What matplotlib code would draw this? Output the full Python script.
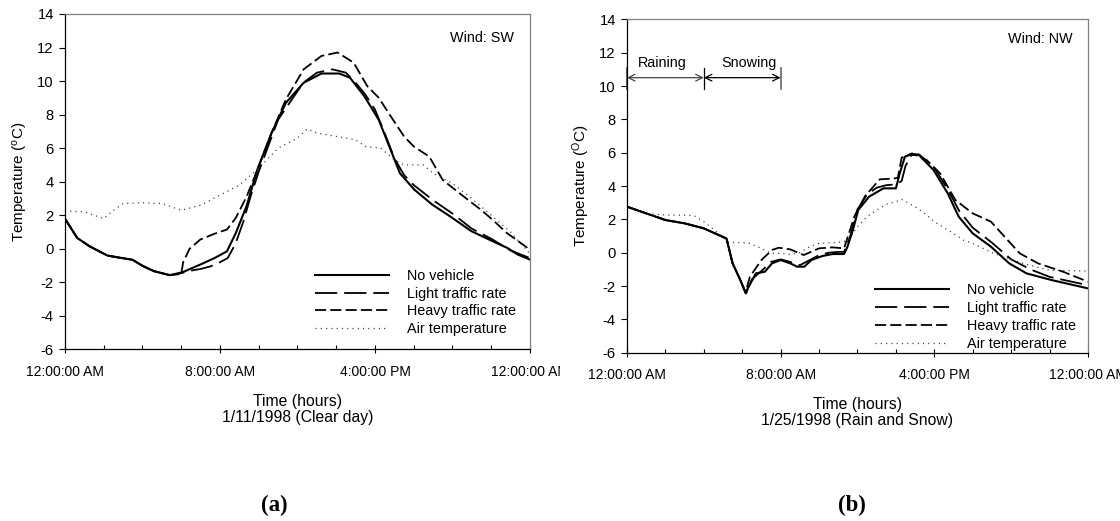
import matplotlib
matplotlib.use("Agg")
import matplotlib.pyplot as plt
from matplotlib.transforms import Bbox, TransformedBbox

plt.rcParams['font.family'] = ['Liberation Sans', 'DejaVu Sans']
plt.rcParams['mathtext.fontset'] = 'custom'
plt.rcParams['mathtext.rm'] = 'Liberation Sans'
plt.rcParams['mathtext.it'] = 'Liberation Sans:italic'
plt.rcParams['lines.scale_dashes'] = False
plt.rcParams['axes.unicode_minus'] = False

# ---------------- data: panel (a) 1/11/1998 clear day ----------------
a_none_t = [0, 0.63, 1.27, 2.19, 2.93, 3.48, 4.03, 4.59, 5.41, 6.06, 6.98, 7.72, 8.36, 8.82,
            9.37, 9.93, 10.66, 11.4, 12.32, 13.24, 14.16, 14.71, 15.45, 16.19, 16.74, 17.29,
            18.03, 18.95, 19.87, 20.98, 22.08, 22.82, 23.37, 24]
a_none_v = [1.8, 0.65, 0.15, -0.4, -0.55, -0.65, -1.03, -1.33, -1.57, -1.4, -0.94, -0.55, -0.15, 0.95,
            2.54, 4.73, 6.9, 8.7, 9.9, 10.45, 10.45, 10.2, 9.1, 7.7, 6.1, 4.5,
            3.53, 2.64, 1.94, 1.05, 0.45, 0.06, -0.34, -0.64]

a_light_t = [0, 0.63, 1.27, 2.19, 2.93, 3.48, 4.03, 4.59, 5.41, 6.0, 6.5, 7.0, 7.5, 8.0, 8.4,
             8.8, 9.2, 9.6, 10.0, 11.0, 12.3, 13.0, 13.8, 14.5, 15.0, 15.5, 16.0, 16.5, 17.0,
             17.5, 18.0, 19.0, 20.0, 21.0, 22.0, 23.0, 24]
a_light_v = [1.8, 0.65, 0.15, -0.4, -0.55, -0.65, -1.03, -1.33, -1.57, -1.45, -1.3, -1.2, -1.05, -0.8, -0.55,
             0.3, 1.6, 3.2, 4.6, 7.7, 9.9, 10.5, 10.7, 10.5, 9.9, 9.2, 8.3, 6.9, 5.4,
             4.4, 3.8, 2.9, 2.1, 1.2, 0.6, -0.1, -0.55]

a_heavy_t = [0, 0.63, 1.27, 2.19, 2.93, 3.48, 4.03, 4.59, 5.41, 6.0, 6.1, 6.43, 6.98, 7.72, 8.36,
             8.82, 9.37, 9.93, 10.66, 11.4, 12.32, 13.24, 14.07, 14.9, 15.6, 16.2, 16.7, 17.5,
             18.0, 18.8, 19.1, 19.5, 20.6, 21.5, 22.1, 22.8, 24]
a_heavy_v = [1.8, 0.65, 0.15, -0.4, -0.55, -0.65, -1.03, -1.33, -1.57, -1.5, -0.8, 0.0, 0.55, 0.9, 1.15,
             1.85, 3.1, 4.7, 6.9, 8.9, 10.7, 11.5, 11.7, 11.1, 9.7, 9.0, 8.1, 6.7,
             6.1, 5.5, 4.9, 4.1, 3.1, 2.3, 1.7, 0.95, -0.05]

a_air_t = [0, 1, 2, 2.5, 3, 4, 5, 6, 7, 8, 9, 10, 11, 12, 12.5, 13, 14, 15, 15.5, 16.3,
           17, 17.5, 18.5, 19, 20, 21, 22, 23, 24]
a_air_v = [2.25, 2.2, 1.8, 2.3, 2.7, 2.75, 2.7, 2.3, 2.6, 3.2, 3.8, 4.8, 6.0, 6.6, 7.15, 6.9, 6.7, 6.5, 6.1, 6.0,
           5.3, 5.0, 5.0, 4.5, 3.9, 3.0, 2.0, 1.0, -0.3]

# ---------------- data: panel (b) 1/25/1998 rain and snow ----------------
b_none_t = [0, 1, 2, 3, 4, 5.18, 5.5, 5.9, 6.17, 6.43, 6.71, 7.18, 7.55, 8.0, 8.5, 8.86, 9.23,
            9.6, 10.17, 10.7, 11.3, 11.48, 11.76, 12.04, 12.6, 13.35, 14.0, 14.2, 14.47, 14.84,
            15.2, 15.96, 16.7, 17.27, 18.0, 18.95, 19.9, 20.8, 22.1, 24]
b_none_v = [2.76, 2.36, 1.96, 1.76, 1.46, 0.85, -0.64, -1.64, -2.4, -1.84, -1.24, -1.14, -0.64, -0.44, -0.64, -0.84, -0.84,
            -0.44, -0.2, -0.08, -0.08, 0.36, 1.36, 2.56, 3.36, 3.86, 3.86, 4.76, 5.76, 5.92,
            5.86, 4.96, 3.56, 2.16, 1.16, 0.36, -0.64, -1.24, -1.64, -2.14]

b_light_t = [0, 1, 2, 3, 4, 5.18, 5.5, 5.9, 6.2, 6.5, 7.0, 7.5, 8.0, 8.5, 9.0, 9.5, 10.0, 10.5,
             11.0, 11.3, 11.6, 12.0, 12.5, 13.0, 13.5, 14.0, 14.3, 14.5, 14.8, 15.2, 16.0, 16.7,
             17.3, 18.0, 19.0, 20.0, 21.0, 22.0, 23.0, 24]
b_light_v = [2.76, 2.36, 1.96, 1.76, 1.46, 0.85, -0.64, -1.64, -2.45, -1.6, -1.1, -0.55, -0.4, -0.55, -0.75, -0.45, -0.15, 0.0,
             0.05, 0.05, 0.9, 2.6, 3.5, 3.9, 4.05, 4.1, 4.3, 5.2, 5.85, 5.9, 5.1, 3.8,
             2.5, 1.5, 0.6, -0.4, -1.0, -1.45, -1.7, -1.95]

b_heavy_t = [0, 1, 2, 3, 4, 5.18, 5.5, 5.9, 6.17, 6.4, 7.0, 7.55, 7.9, 8.5, 9.2, 10.0, 10.7, 11.3,
             11.85, 12.4, 13.16, 13.9, 14.1, 14.3, 14.84, 15.6, 16.3, 17.1, 18.0, 18.95, 19.5,
             20.45, 21.4, 22.7, 24]
b_heavy_v = [2.76, 2.36, 1.96, 1.76, 1.46, 0.85, -0.64, -1.64, -2.4, -1.44, -0.44, 0.16, 0.3, 0.2, -0.14, 0.26, 0.32, 0.26,
             2.2, 3.4, 4.4, 4.45, 4.5, 5.7, 5.96, 5.56, 4.76, 3.16, 2.36, 1.86, 1.16,
             -0.04, -0.64, -1.14, -1.74]

b_air_t = [0, 1, 2, 3, 3.5, 4, 4.56, 5.3, 6.3, 7, 7.5, 8, 8.5, 9, 9.5, 10, 11, 11.5, 12, 12.5,
           13, 13.5, 14, 14.3, 15, 15.5, 16, 16.5, 17, 17.5, 18, 19, 20, 20.8, 22, 24]
b_air_v = [2.7, 2.35, 2.26, 2.25, 2.22, 1.86, 1.36, 0.62, 0.6, 0.26, -0.04, -0.04, -0.1, 0.0, 0.36, 0.56, 0.62, 0.7, 1.56, 2.16,
           2.56, 2.9, 3.06, 3.2, 2.76, 2.36, 1.86, 1.5, 1.16, 0.76, 0.56, 0.0, -0.4, -0.7, -1.05, -1.1]

tick_hours = [0, 8, 16, 24]
tick_labels = ['12:00:00 AM', '8:00:00 AM', '4:00:00 PM', '12:00:00 AM']
series_names = ['No vehicle', 'Light traffic rate', 'Heavy traffic rate', 'Air temperature']

FS = 10.4
fig = plt.figure(figsize=(11.2, 5.21), dpi=100)

def setup(ax, ylabel, xlabel, wind, wind_y):
    ax.set_xlim(0, 24)
    ax.set_ylim(-6, 14)
    ax.set_yticks(range(-6, 15, 2))
    ax.set_xticks(tick_hours)
    ax.set_xticklabels(tick_labels)
    ax.set_xticks(range(0, 25, 2), minor=True)
    ax.tick_params(axis='y', direction='out', length=4, width=0.8, labelsize=10.6, pad=4)
    ax.tick_params(axis='x', which='major', direction='inout', length=6, width=0.8, labelsize=10, pad=8)
    ax.tick_params(axis='x', which='minor', direction='in', length=3, width=0.8)
    for s in ['left', 'bottom']:
        ax.spines[s].set_color('black')
        ax.spines[s].set_linewidth(0.9)
    for s in ['top', 'right']:
        ax.spines[s].set_color('#808080')
        ax.spines[s].set_linewidth(0.9)
    ax.set_ylabel(ylabel, fontsize=11, labelpad=5)
    ax.set_xlabel(xlabel, fontsize=11.3, labelpad=11, linespacing=1.1)
    ax.text(0.966, wind_y, wind, transform=ax.transAxes, ha='right', va='center', fontsize=FS)

def draw(ax, none, light, heavy, air, legend_anchor):
    ax.plot(none[0], none[1], color='black', lw=1.5, label=series_names[0])
    ax.plot(light[0], light[1], color='black', lw=1.3, linestyle=(0, (16, 5)), label=series_names[1])
    ax.plot(heavy[0], heavy[1], color='black', lw=1.3, linestyle=(0, (8, 3)), label=series_names[2])
    ax.plot(air[0], air[1], color='#333333', lw=0.9, linestyle=(0, (0.8, 3)), label=series_names[3])
    ax.legend(loc='upper left', bbox_to_anchor=legend_anchor, frameon=False, fontsize=FS,
              handlelength=5.1, handletextpad=1.28, labelspacing=0.26, borderpad=0, borderaxespad=0)

axA = fig.add_axes([0.0580, 0.3292, 0.4152, 0.6440])
setup(axA, r'Temperature ($^{\rm o}$C)', 'Time (hours)\n1/11/1998 (Clear day)', 'Wind: SW', 0.928)
draw(axA, (a_none_t, a_none_v), (a_light_t, a_light_v), (a_heavy_t, a_heavy_v), (a_air_t, a_air_v), (0.538, 0.240))

axB = fig.add_axes([0.5598, 0.3230, 0.4116, 0.6399])
setup(axB, r'Temperature ($^{\rm O}$C)', 'Time (hours)\n1/25/1998 (Rain and Snow)', 'Wind: NW', 0.941)
draw(axB, (b_none_t, b_none_v), (b_light_t, b_light_v), (b_heavy_t, b_heavy_v), (b_air_t, b_air_v), (0.538, 0.208))

# Raining / Snowing annotation
ya = 10.5
axB.annotate('', xy=(0, ya), xytext=(4, ya), arrowprops=dict(arrowstyle='<->', color='#444444', lw=0.9,
             shrinkA=0, shrinkB=0, mutation_scale=12))
axB.annotate('', xy=(4, ya), xytext=(8, ya), arrowprops=dict(arrowstyle='<->', color='black', lw=0.9,
             shrinkA=0, shrinkB=0, mutation_scale=12))
axB.plot([4, 4], [9.8, 11.1], color='black', lw=0.9)
axB.plot([8, 8], [9.8, 11.1], color='#666666', lw=1.2)
axB.plot([0, 0], [9.8, 11.1], color='#444444', lw=1.2, clip_on=False)
axB.text(1.85, 11.4, 'Raining', ha='center', va='center', fontsize=FS)
axB.text(6.33, 11.4, 'Snowing', ha='center', va='center', fontsize=FS)

# panel letters
fig.text(274 / 1120, 1 - 505 / 521, '(a)', ha='center', va='center', fontsize=16.5, fontweight='bold',
         family='Liberation Serif')
fig.text(852 / 1120, 1 - 505 / 521, '(b)', ha='center', va='center', fontsize=16.5, fontweight='bold',
         family='Liberation Serif')

# clip the left panel's last tick label at the panel boundary (as in the reference)
clipbox = TransformedBbox(Bbox([[0, 0], [0.5, 1]]), fig.transFigure)
for tk in axA.xaxis.get_major_ticks():
    tk.label1.set_clip_box(clipbox)
    tk.label1.set_clip_on(True)

fig.savefig('out.png', dpi=100)
